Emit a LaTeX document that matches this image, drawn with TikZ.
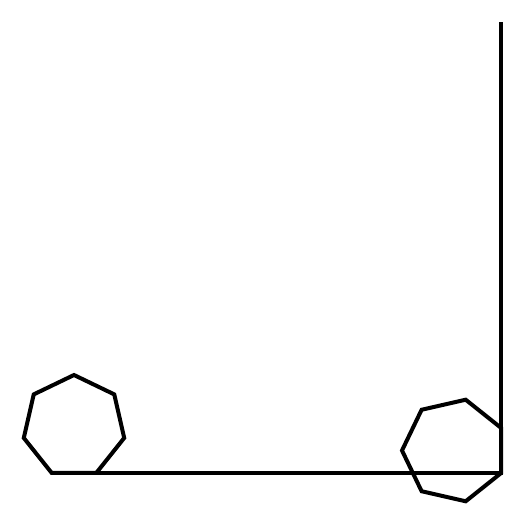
\documentclass[tikz,border=0pt]{standalone}
\usetikzlibrary{calc}
\begin{document}
\begin{tikzpicture}[x=1pt,y=1pt,
  edge/.style={line width=4pt,black},
  hept/.style={line width=4pt,black}]
\useasboundingbox (0,0) rectangle (525,525);
\coordinate (lc) at (74,98.5);
\coordinate (rc) at (454.1,74.5);
\coordinate (a) at (96.3,52);
\coordinate (b) at (501,52);
\coordinate (c) at (501,503);
\draw[hept] ($(lc)+(90:51.5)$) \foreach \k in {1,...,6} { -- ($(lc)+({90+\k*360/7}:51.5)$) } -- cycle;
\draw[hept] ($(rc)+(180:52.1)$) \foreach \k in {1,...,6} { -- ($(rc)+({180+\k*360/7}:52.1)$) } -- cycle;
\draw[edge] (a) -- (b) -- (c);
\end{tikzpicture}
\end{document}
